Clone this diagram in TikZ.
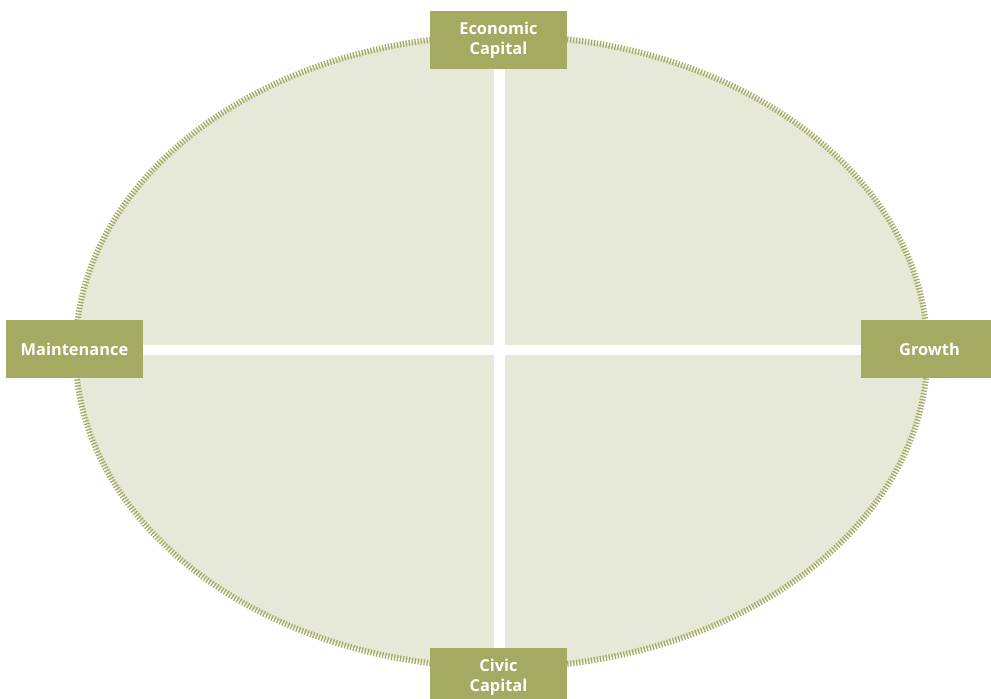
\documentclass[tikz,border=0pt]{standalone}
\usepackage{fontspec}
\setmainfont{Open Sans}
\definecolor{boxgreen}{HTML}{A5AA63}
\definecolor{ovalfill}{HTML}{E6E8D8}
\tikzset{
  labelbox/.style={fill=boxgreen, text=white, font=\bfseries\fontsize{16.4}{20}\selectfont,
    minimum width=137pt, minimum height=58pt, inner sep=0pt, align=center},
  crossline/.style={draw=white}
}
\begin{document}
\begin{tikzpicture}[x=1pt,y=-1pt]
\useasboundingbox (0,0) rectangle (991,699);
\fill[ovalfill] (501.5,351.5) ellipse [x radius=426pt, y radius=316pt];
\draw[boxgreen, line width=6pt, dash pattern=on 1.3pt off 1.7pt] (501.5,351.5) ellipse [x radius=426pt, y radius=316pt];
\node[labelbox] (econ) at (498.5,40) {Economic\\Capital};
\node[labelbox] (civic) at (498.5,677) {Civic\\Capital};
\node[labelbox] (maint) at (74.5,349) {Maintenance};
\node[labelbox] (growth) at (929.5,349) {Growth};
\draw[crossline, line width=11pt] (econ.south -| 499.5,0) -- (civic.north -| 499.5,0);
\draw[crossline, line width=10pt] (maint.east |- 0,350) -- (growth.west |- 0,350);
\end{tikzpicture}
\end{document}
